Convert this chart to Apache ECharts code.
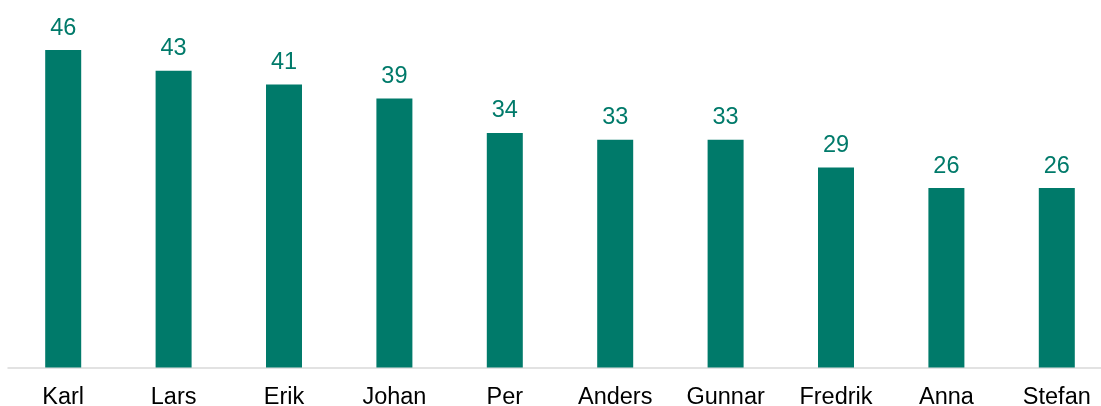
<!DOCTYPE html>
<html>
<head>
<meta charset="utf-8">
<script src="https://cdn.jsdelivr.net/npm/echarts@6/dist/echarts.min.js"></script>
<style>
	html, body { margin: 0; padding: 0; background: #fff; }
	#chart { width: 1101px; height: 406px; }
</style>
</head>
<body>
<div id="chart"></div>
<script>
	var names = ['Karl', 'Lars', 'Erik', 'Johan', 'Per', 'Anders', 'Gunnar', 'Fredrik', 'Anna', 'Stefan'];
	var counts = [46, 43, 41, 39, 34, 33, 33, 29, 26, 26];

	var chart = echarts.init(document.getElementById('chart'));
	chart.setOption({
		animation: false,
		grid: {
			left: 8,
			width: 1104,
			top: 22.5,
			bottom: 38.5,
			outerBoundsMode: 'none',
			containLabel: false
		},
		xAxis: {
			type: 'category',
			data: names,
			axisTick: { show: false },
			axisLine: { lineStyle: { color: '#d9d9d9', width: 1.5 } },
			axisLabel: {
				color: '#000',
				fontFamily: 'Liberation Sans',
				fontSize: 23.5,
				margin: 18
			}
		},
		yAxis: {
			type: 'value',
			min: 0,
			max: 50,
			show: false,
			splitLine: { show: false }
		},
		series: [{
			type: 'bar',
			data: counts,
			barWidth: 36,
			itemStyle: { color: '#007a6a' },
			label: {
				show: true,
				position: 'top',
				distance: 10,
				color: '#007a6a',
				fontFamily: 'Liberation Sans',
				fontSize: 23.5
			}
		}]
	});
</script>
</body>
</html>
